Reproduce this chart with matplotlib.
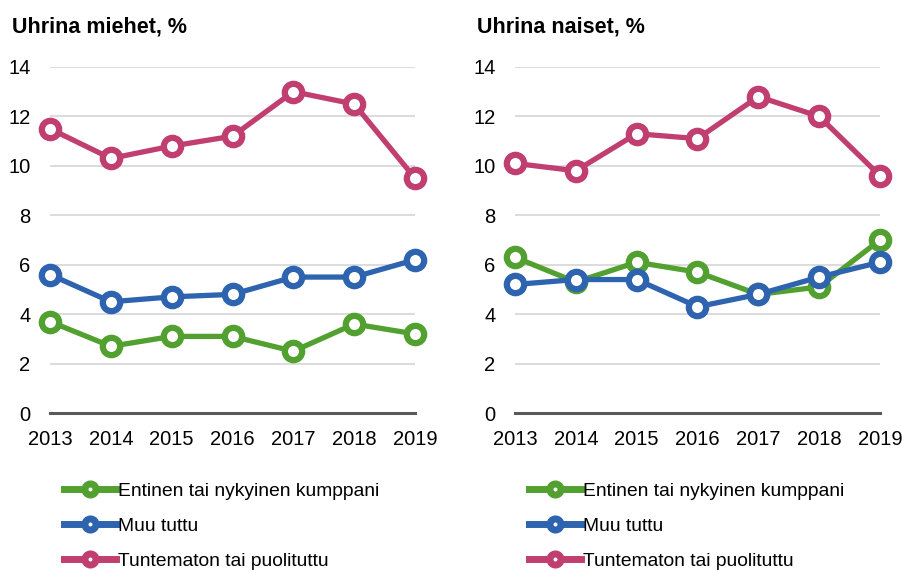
import matplotlib
matplotlib.use("Agg")
import matplotlib.pyplot as plt
from matplotlib.lines import Line2D

plt.rcParams['font.family'] = ['Liberation Sans', 'DejaVu Sans']

years = [2013, 2014, 2015, 2016, 2017, 2018, 2019]
series_names = ["Entinen tai nykyinen kumppani", "Muu tuttu", "Tuntematon tai puolituttu"]
colors = ["#52A02F", "#2E63AF", "#C13E71"]

men_partner = [3.7, 2.7, 3.1, 3.1, 2.5, 3.6, 3.2]
men_known = [5.6, 4.5, 4.7, 4.8, 5.5, 5.5, 6.2]
men_stranger = [11.5, 10.3, 10.8, 11.2, 13.0, 12.5, 9.5]

women_partner = [6.3, 5.3, 6.1, 5.7, 4.8, 5.1, 7.0]
women_known = [5.2, 5.4, 5.4, 4.3, 4.8, 5.5, 6.1]
women_stranger = [10.1, 9.8, 11.3, 11.1, 12.8, 12.0, 9.6]

titles = ["Uhrina miehet, %", "Uhrina naiset, %"]
yticks = [0, 2, 4, 6, 8, 10, 12, 14]

fig = plt.figure(figsize=(9.03, 5.70), dpi=100)

panels = [
    (0.0554, titles[0], [men_partner, men_known, men_stranger], 12, 64),
    (0.5703, titles[1], [women_partner, women_known, women_stranger], 477, 529),
]

for left, title, data, tx, lx in panels:
    ax = fig.add_axes([left, 0.2754, 0.4042, 0.6071])
    ax.set_xlim(2013, 2019)
    ax.set_ylim(0, 14)
    for vals, c in zip(data, colors):
        ax.plot(years, vals, color=c, lw=3.8, marker='o', ms=12.5,
                mfc='white', mec=c, mew=4.5, clip_on=False, zorder=3)
    ax.set_yticks(yticks)
    ax.set_xticks(years)
    ax.grid(axis='y', color='#D9D9D9', lw=1.3)
    ax.set_axisbelow(True)
    for s in ['top', 'right', 'left']:
        ax.spines[s].set_visible(False)
    ax.spines['bottom'].set_color('#595959')
    ax.spines['bottom'].set_linewidth(2.2)
    ax.spines['bottom'].set_zorder(2)
    ax.tick_params(axis='both', length=0, labelsize=14.5, colors='black')
    ax.tick_params(axis='y', pad=14)
    ax.tick_params(axis='x', pad=12)
    fig.text(tx / 903, 1 - 27 / 570, title, fontsize=15.5, fontweight='bold',
             ha='left', va='center')
    handles = [Line2D([0], [0], color=c, lw=5, marker='o', ms=8, mfc='white',
                      mec=c, mew=5) for c in colors]
    fig.legend(handles, series_names, loc='upper left',
               bbox_to_anchor=(lx / 903, 1 - 482 / 570),
               frameon=False, fontsize=13.9, handlelength=2.7, handletextpad=0.1,
               labelspacing=0.91, borderaxespad=0, borderpad=0)

fig.savefig("out.png", dpi=100)
